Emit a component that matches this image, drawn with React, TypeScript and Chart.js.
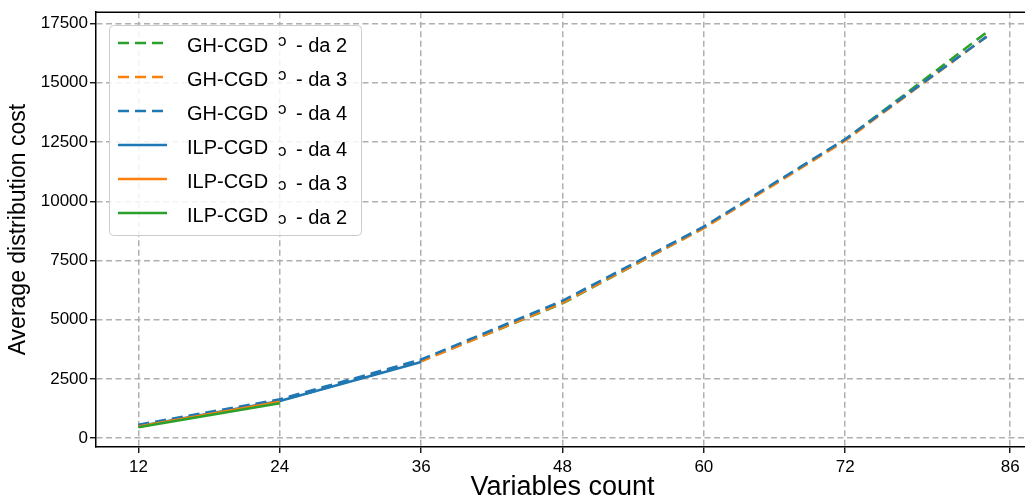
import React, { useEffect, useRef } from "react";
import { Chart, registerables } from "chart.js";

Chart.register(...registerables);

// ---- data ----
const ghXValues = [12, 24, 36, 48, 60, 72, 84];
const ghDa2 = [520, 1580, 3260, 5690, 8880, 12600, 17130];
const ghDa3 = [540, 1600, 3250, 5720, 8870, 12560, 16950];
const ghDa4 = [570, 1640, 3320, 5800, 8930, 12620, 16950];

const ilpDa4X = [12, 24, 36];
const ilpDa4 = [500, 1570, 3220];
const ilpDa3X = [12, 24];
const ilpDa3 = [490, 1540];
const ilpDa2X = [12, 24];
const ilpDa2 = [460, 1480];

const xTickValues = [12, 24, 36, 48, 60, 72, 86];
const yTickValues = [0, 2500, 5000, 7500, 10000, 12500, 15000, 17500];

const legendNames = ["GH-CGD", "GH-CGD", "GH-CGD", "ILP-CGD", "ILP-CGD", "ILP-CGD"];
const legendSuffix = ["- da 2", "- da 3", "- da 4", "- da 4", "- da 3", "- da 2"];

const BLUE = "#1f77b4";
const ORANGE = "#ff7f0e";
const GREEN = "#2ca02c";
const FONT = "'Liberation Sans', Arial, sans-serif";
const DASH = [11, 6];

const toPoints = (xs: number[], ys: number[]) => xs.map((x, i) => ({ x, y: ys[i] }));

const legendItems = [
  { color: GREEN, dashed: true },
  { color: ORANGE, dashed: true },
  { color: BLUE, dashed: true },
  { color: BLUE, dashed: false },
  { color: ORANGE, dashed: false },
  { color: GREEN, dashed: false },
];

const framePlugin = {
  id: "frameAndLegend",
  afterDatasetsDraw(chart: any) {
    const { ctx, chartArea } = chart;
    ctx.save();
    // top and right spines
    ctx.strokeStyle = "#000";
    ctx.lineWidth = 1.5;
    ctx.setLineDash([]);
    ctx.beginPath();
    ctx.moveTo(chartArea.left, chartArea.top);
    ctx.lineTo(chartArea.right, chartArea.top);
    ctx.lineTo(chartArea.right, chartArea.bottom);
    ctx.stroke();

    // legend box
    const bx = 109.5, by = 25.5, bw = 252, bh = 210;
    ctx.beginPath();
    (ctx as any).roundRect(bx, by, bw, bh, 4);
    ctx.fillStyle = "rgba(255,255,255,0.85)";
    ctx.fill();
    ctx.strokeStyle = "#cccccc";
    ctx.lineWidth = 1;
    ctx.stroke();

    legendItems.forEach((item, i) => {
      const ly = 43 + i * 34;
      ctx.beginPath();
      ctx.strokeStyle = item.color;
      ctx.lineWidth = 2.6;
      ctx.setLineDash(item.dashed ? DASH : []);
      ctx.moveTo(118, ly);
      ctx.lineTo(167, ly);
      ctx.stroke();
      ctx.setLineDash([]);

      const base = ly + 9;
      const isGH = i < 3;
      ctx.fillStyle = "#000";
      ctx.textAlign = "left";
      ctx.textBaseline = "alphabetic";
      ctx.font = `20px ${FONT}`;
      ctx.fillText(legendNames[i], 187, base);
      ctx.font = `17px ${FONT}`;
      ctx.fillText("ɔ", 278, isGH ? base - 6 : base + 2);
      ctx.font = `20px ${FONT}`;
      ctx.fillText(legendSuffix[i], 296, isGH ? base : base + 2);
    });
    ctx.restore();
  },
};

export default function App() {
  const canvasRef = useRef<HTMLCanvasElement | null>(null);

  useEffect(() => {
    document.documentElement.style.overflow = "hidden";
    document.body.style.overflow = "hidden";
    const canvas = canvasRef.current;
    if (!canvas) return;

    const lineDs = (label: string, xs: number[], ys: number[], color: string, dashed: boolean) => ({
      label,
      data: toPoints(xs, ys),
      borderColor: color,
      backgroundColor: color,
      borderWidth: 2.6,
      borderDash: dashed ? DASH : [],
      pointRadius: 0,
      pointHoverRadius: 0,
      tension: 0,
      fill: false,
    });

    // reversed so that the first one drawn by matplotlib ends up at the bottom
    const datasets = [
      lineDs("ILP-CGD - da 2", ilpDa2X, ilpDa2, GREEN, false),
      lineDs("ILP-CGD - da 3", ilpDa3X, ilpDa3, ORANGE, false),
      lineDs("ILP-CGD - da 4", ilpDa4X, ilpDa4, BLUE, false),
      lineDs("GH-CGD - da 4", ghXValues, ghDa4, BLUE, true),
      lineDs("GH-CGD - da 3", ghXValues, ghDa3, ORANGE, true),
      lineDs("GH-CGD - da 2", ghXValues, ghDa2, GREEN, true),
    ];

    const chart = new Chart(canvas, {
      type: "line",
      data: { datasets },
      options: {
        animation: false,
        responsive: true,
        maintainAspectRatio: false,
        devicePixelRatio: 1,
        layout: { padding: { top: 12, right: 11, left: 0, bottom: 0 } },
        plugins: { legend: { display: false }, tooltip: { enabled: false } },
        scales: {
          x: {
            type: "linear",
            min: 8.4,
            max: 87.6,
            afterBuildTicks: (s: any) => {
              s.ticks = xTickValues.map((v) => ({ value: v }));
            },
            afterFit: (s: any) => {
              s.height = 53;
            },
            ticks: {
              autoSkip: false,
              maxRotation: 0,
              padding: 4,
              color: "#000",
              font: { family: FONT, size: 17 },
              callback: (v: any) => String(v),
            },
            grid: {
              color: "#b0b0b0",
              lineWidth: 1.5,
              tickColor: "#000",
              tickLength: 6,
              tickWidth: 1.3,
            },
            border: { display: true, color: "#000", width: 1.5, dash: [6, 3.5] },
            title: {
              display: true,
              text: "Variables count",
              color: "#000",
              font: { family: FONT, size: 27 },
              padding: { top: 0, bottom: -4 },
            },
          },
          y: {
            type: "linear",
            min: -370,
            max: 17980,
            afterBuildTicks: (s: any) => {
              s.ticks = yTickValues.map((v) => ({ value: v }));
            },
            afterFit: (s: any) => {
              s.width = 96;
            },
            ticks: {
              padding: 2,
              color: "#000",
              font: { family: FONT, size: 17 },
              callback: (v: any) => String(v),
            },
            grid: {
              color: "#b0b0b0",
              lineWidth: 1.5,
              tickColor: "#000",
              tickLength: 6,
              tickWidth: 1.3,
            },
            border: { display: true, color: "#000", width: 1.5, dash: [6, 3.5] },
            title: {
              display: true,
              text: "Average distribution cost",
              color: "#000",
              font: { family: FONT, size: 23 },
              padding: { top: 5, bottom: 0 },
            },
          },
        },
      },
      plugins: [framePlugin],
    } as any);

    return () => chart.destroy();
  }, []);

  return (
    <div style={{ position: "absolute", left: 0, top: 0, width: 1040, height: 500 }}>
      <canvas ref={canvasRef} />
    </div>
  );
}
